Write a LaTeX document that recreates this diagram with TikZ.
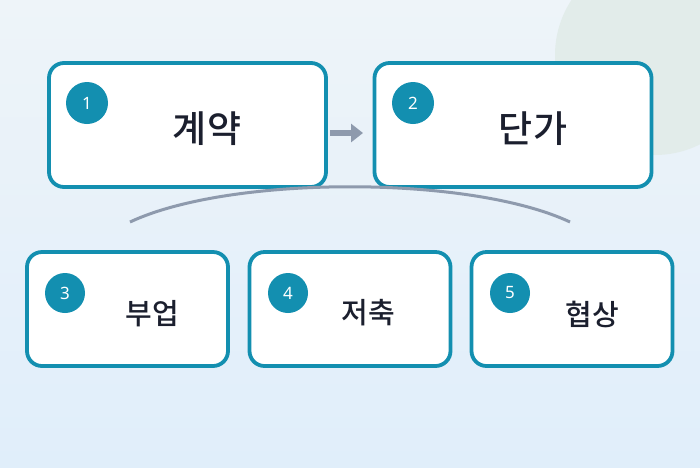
\documentclass[tikz,border=0pt]{standalone}
\usepackage{fontspec}
\usetikzlibrary{arrows.meta}
\newfontfamily\kr{Noto Sans CJK KR Medium}
\newfontfamily\nums{Noto Sans}
\definecolor{teal}{HTML}{138FB0}
\definecolor{ink}{HTML}{1B1F2E}
\definecolor{bgtop}{HTML}{EEF4F9}
\definecolor{bgbot}{HTML}{E0EEFA}
\definecolor{gr}{HTML}{8E9AAD}
\definecolor{blob}{HTML}{E2ECEA}
\begin{document}
\begin{tikzpicture}[x=1pt,y=-1pt,
 box/.style={draw=teal,line width=3.8pt,rounded corners=15pt,fill=white},
 num/.style={circle,fill=teal,text=white,minimum size=42pt,inner sep=0pt,font=\nums\fontsize{17}{17}\selectfont},
 big/.style={text=ink,font=\kr\fontsize{37}{40}\selectfont},
 small/.style={text=ink,font=\kr\fontsize{29}{32}\selectfont}]
\shade[top color=bgtop,bottom color=bgbot] (0,0) rectangle (700,467);
\useasboundingbox (0,0) rectangle (700,467);
\fill[blob] (655,55) circle (100);
\node[box,minimum width=277pt,minimum height=124pt] (b1) at (187.5,125) {};
\node[box,minimum width=277pt,minimum height=124pt] (b2) at (513,125) {};
\node[box,minimum width=201pt,minimum height=114pt] (b3) at (127.5,309) {};
\node[box,minimum width=201pt,minimum height=114pt] (b4) at (350,309) {};
\node[box,minimum width=201pt,minimum height=114pt] (b5) at (572,309) {};
\node[num] (n1) at (87,103) {1};
\node[num] (n2) at (413,103) {2};
\node[num,minimum size=40pt] (n3) at (65,293) {3};
\node[num,minimum size=40pt] (n4) at (288,293) {4};
\node[num,minimum size=40pt] (n5) at (510,293) {5};
\node[big] (t1) at (207,129) {계약};
\node[big] (t2) at (533,129) {단가};
\node[small] (t3) at (152,314) {부업};
\node[small] (t4) at (368,313) {저축};
\node[small] (t5) at (592,314) {협상};
\coordinate (a1) at (330,133);
\coordinate (a2) at (363,133);
\draw[gr,line width=6pt,-{Triangle[length=12pt,width=18pt]}] (a1) -- (a2);
\coordinate (c1) at (130,222);
\coordinate (c2) at (570,222);
\draw[gr,line width=3pt] (c1) .. controls (230,175) and (470,175) .. (c2);
\end{tikzpicture}
\end{document}
